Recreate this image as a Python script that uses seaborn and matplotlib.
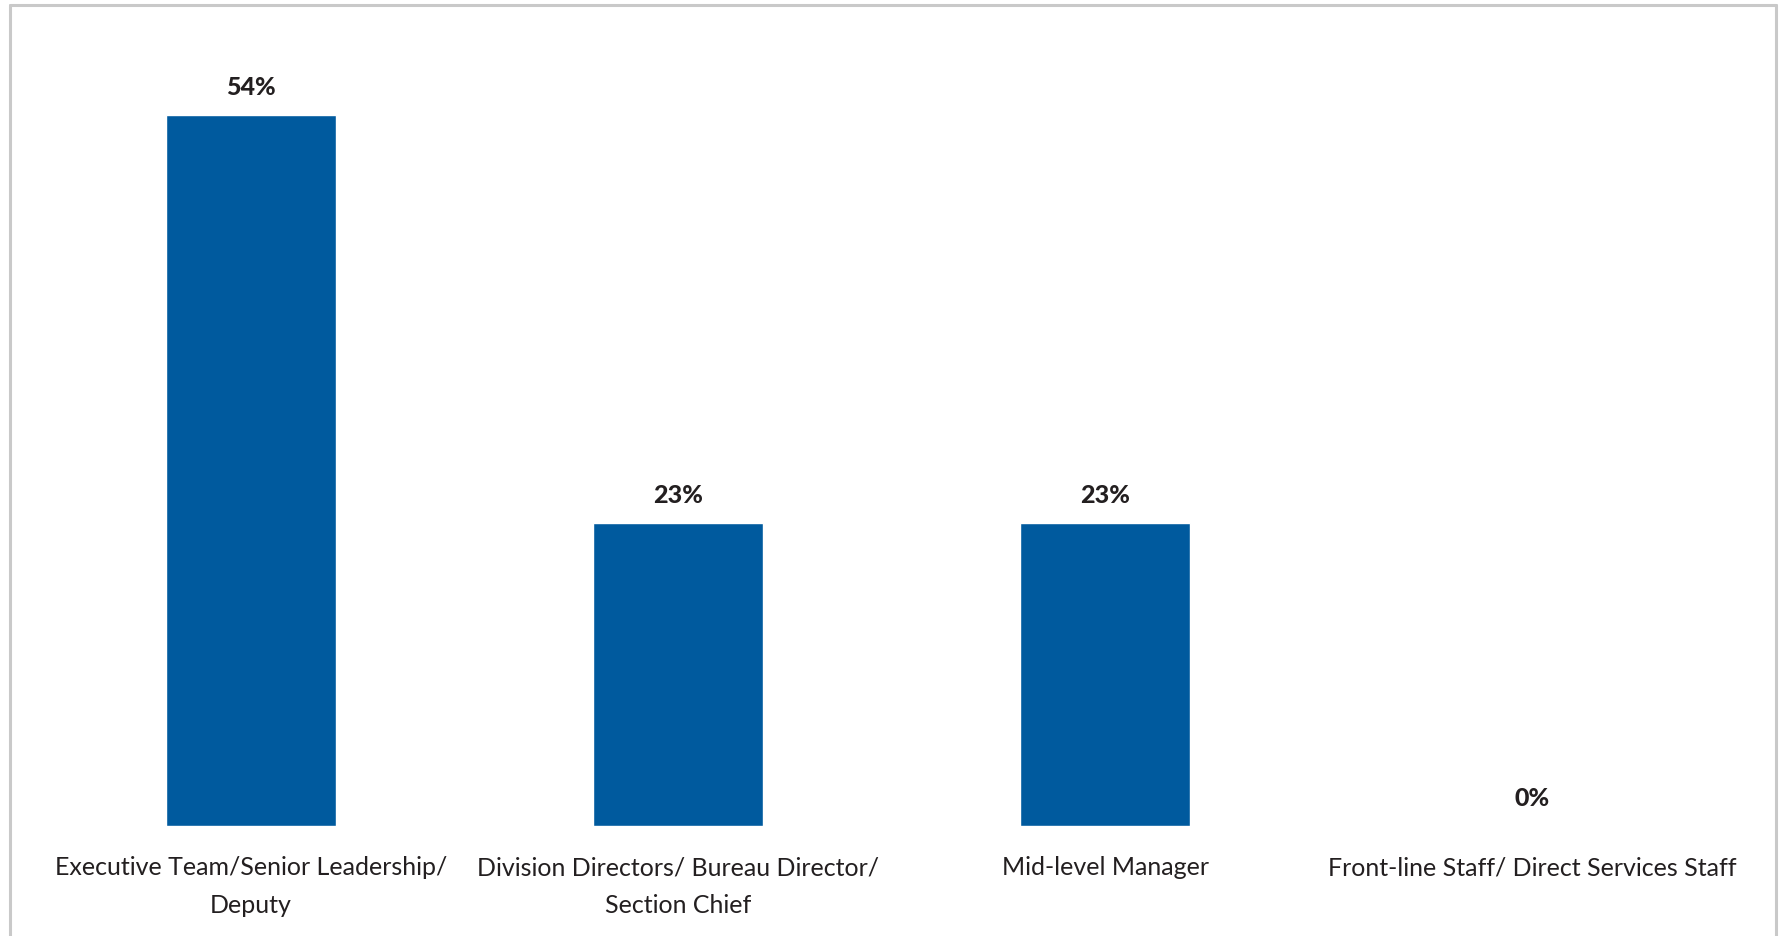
import matplotlib
matplotlib.use("Agg")
import matplotlib.pyplot as plt
import seaborn as sns
import pandas as pd
from matplotlib.lines import Line2D

categories = [
    "Executive Team/Senior Leadership/\nDeputy",
    "Division Directors/ Bureau Director/\nSection Chief",
    "Mid-level Manager",
    "Front-line Staff/ Direct Services Staff",
]
values = [54, 23, 23, 0]
value_labels = ["54%", "23%", "23%", "0%"]

df = pd.DataFrame({"role": categories, "pct": values})

sns.set_theme(style="white")
plt.rcParams["font.family"] = ["Lato", "DejaVu Sans"]

W, H = 1779, 937
fig = plt.figure(figsize=(W / 100, H / 100), dpi=100)
fig.patch.set_facecolor("white")

# axes in pixel terms: x from 37 to 1746, baseline at y=827, top at y=37
left, right = 37.5, 1745.5
bottom_px, top_px = 827, 37
ax = fig.add_axes([left / W, 1 - bottom_px / H, (right - left) / W, (bottom_px - top_px) / H])

bar_color = "#005A9E"
text_color = "#231F20"

sns.barplot(data=df, x="role", y="pct", color=bar_color, width=0.4,
            saturation=1, ax=ax)

ax.set_ylim(0, 60)
ax.set_xlim(-0.5, 3.5)
ax.set_xlabel("")
ax.set_ylabel("")
ax.set_yticks([])
for s in ax.spines.values():
    s.set_visible(False)

ax.tick_params(axis="x", length=0, pad=21)
ax.set_xticks(range(len(categories)))
ax.set_xticklabels(categories, fontsize=18, color=text_color, linespacing=1.8,
                   va="top")

for i, (v, lab) in enumerate(zip(values, value_labels)):
    ax.annotate(lab, (i, v), xytext=(0, 12), textcoords="offset points",
                ha="center", va="bottom", fontsize=18, fontweight="black",
                color=text_color)

# light frame around the chart area
frame_color = "#C9C9C9"
lw = 2.2
x0, x1 = 9.5 / W, 1775.5 / W
y_top = 1 - 5.5 / H
fig.add_artist(Line2D([x0, x1], [y_top, y_top], color=frame_color, lw=lw, transform=fig.transFigure))
fig.add_artist(Line2D([x0, x0], [y_top, 0], color=frame_color, lw=lw, transform=fig.transFigure))
fig.add_artist(Line2D([x1, x1], [y_top, 0], color=frame_color, lw=lw, transform=fig.transFigure))

fig.savefig("out.png", dpi=100, facecolor="white")
